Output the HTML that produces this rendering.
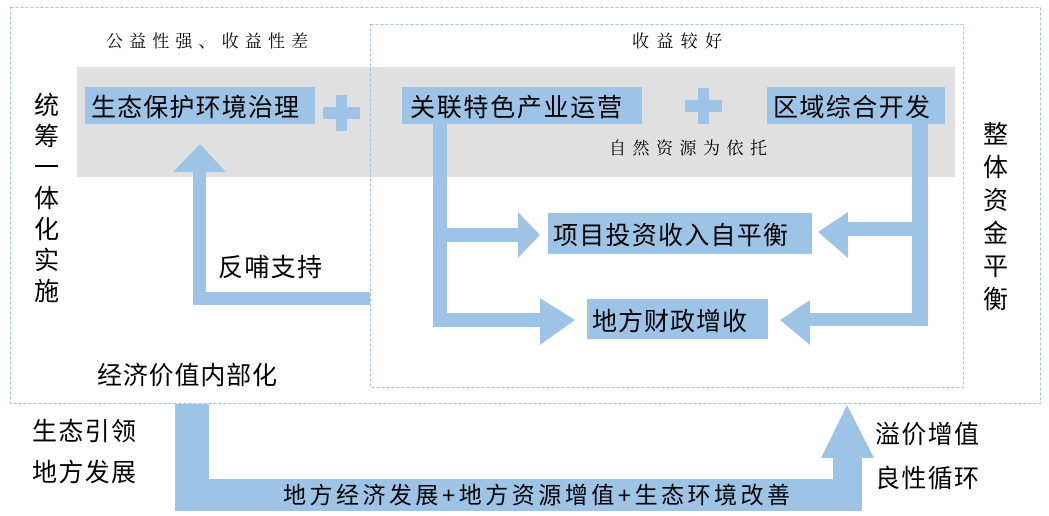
<!DOCTYPE html>
<html><head><meta charset="utf-8"><style>
html,body{margin:0;padding:0;background:#fff;}
svg{display:block;}
text{font-family:"Liberation Sans","Noto Sans CJK SC",sans-serif;fill:#000;}
.s{font-family:"Noto Serif CJK SC","WenQuanYi Zen Hei",serif;}
</style></head><body>
<svg width="1049" height="516" viewBox="0 0 1049 516" xmlns="http://www.w3.org/2000/svg">
<rect x="10.5" y="7.5" width="1030" height="396" fill="none" stroke="#9dc3e6" stroke-dasharray="3,2"/>
<rect x="77" y="67" width="878" height="110" fill="#e0e0e0"/>
<rect x="370.5" y="24.5" width="593" height="363" fill="none" stroke="#9dc3e6" stroke-dasharray="3,2"/>
<g fill="#9dc3e6">
<rect x="85" y="87" width="230" height="37"/>
<rect x="402" y="87" width="240" height="37"/>
<rect x="767" y="87" width="178" height="37"/>
<rect x="323" y="107" width="37" height="12"/><rect x="336" y="95" width="11" height="36"/>
<rect x="685" y="100" width="37" height="12"/><rect x="698" y="88" width="11" height="36"/>
<rect x="548" y="213" width="264" height="41"/>
<rect x="587" y="299" width="181" height="40"/>
<polygon points="173,172 200,144 226,172"/>
<rect x="193" y="170" width="13" height="135"/>
<rect x="193" y="292" width="177" height="13"/>
<rect x="433" y="124" width="14" height="203"/>
<rect x="433" y="228" width="90" height="14"/>
<polygon points="518,212 540,235 518,258"/>
<rect x="433" y="313" width="112" height="14"/>
<polygon points="540,298 575,320 540,345"/>
<rect x="912" y="124" width="16" height="202"/>
<rect x="845" y="222" width="83" height="14"/>
<polygon points="848,212 818,232 848,258"/>
<rect x="808" y="313" width="120" height="13"/>
<polygon points="810,300 780,320 810,345"/>
<rect x="175" y="404" width="34" height="107"/>
<rect x="175" y="479" width="687" height="32"/>
<rect x="833" y="455" width="29" height="56"/>
<polygon points="821,458 847,405 874,458"/>
</g>
<text class="s" x="106" y="47" font-size="17" textLength="202">公益性强、收益性差</text>
<text class="s" x="632" y="47" font-size="17" textLength="90">收益较好</text>
<text class="s" x="609" y="154" font-size="17" textLength="158">自然资源为依托</text>
<text x="91" y="116" font-size="25" textLength="208">生态保护环境治理</text>
<text x="410" y="116" font-size="25" textLength="212">关联特色产业运营</text>
<text x="773" y="116" font-size="25" textLength="157">区域综合开发</text>
<text x="553" y="244" font-size="25" textLength="235">项目投资收入自平衡</text>
<text x="592" y="330" font-size="25" textLength="155">地方财政增收</text>
<text x="218" y="276" font-size="25" textLength="104">反哺支持</text>
<text x="97" y="384" font-size="25" textLength="180">经济价值内部化</text>
<g font-size="25">
<text x="34" y="114">统</text><text x="34" y="145">筹</text><text x="34" y="176">一</text><text x="34" y="207">体</text><text x="34" y="238">化</text><text x="34" y="269">实</text><text x="34" y="300">施</text>
</g>
<g font-size="25">
<text x="983" y="143">整</text><text x="983" y="176">体</text><text x="983" y="209">资</text><text x="983" y="242">金</text><text x="983" y="275">平</text><text x="983" y="308">衡</text>
</g>
<text x="283" y="503" font-size="23" textLength="507">地方经济发展+地方资源增值+生态环境改善</text>
<text x="32" y="440" font-size="25" textLength="104">生态引领</text>
<text x="32" y="481" font-size="25" textLength="104">地方发展</text>
<text x="875" y="443" font-size="25" textLength="104">溢价增值</text>
<text x="875" y="487" font-size="25" textLength="104">良性循环</text>
</svg>
</body></html>
